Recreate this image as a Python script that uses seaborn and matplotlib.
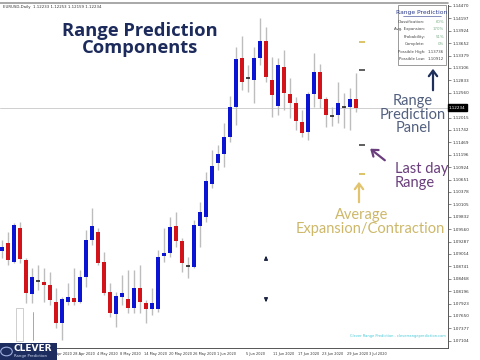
import numpy as np
import pandas as pd
import matplotlib
matplotlib.use("Agg")
import matplotlib.pyplot as plt
import seaborn as sns
from matplotlib.patches import Rectangle, FancyArrowPatch

# ---------------- data (EURUSD daily) ----------------
opens = [1.09080, 1.09256, 1.08838, 1.09586, 1.08882, 1.08134, 1.08420, 1.08398, 1.08332, 1.07958,
         1.07496, 1.07958, 1.08046, 1.07958, 1.08508, 1.09322, 1.09498, 1.08838, 1.08178, 1.07694,
         1.08068, 1.08024, 1.07826, 1.08266, 1.07936, 1.07804, 1.07804, 1.08970, 1.09036, 1.09630,
         1.09300, 1.08750, 1.08728, 1.09630, 1.09828, 1.10554, 1.11016, 1.11214, 1.11588, 1.12248,
         1.13326, 1.12886, 1.12842, 1.13326, 1.13700, 1.12842, 1.12270, 1.13128, 1.12534, 1.12336,
         1.11918, 1.11698, 1.12534, 1.13018, 1.12424, 1.12050, 1.12072, 1.12248, 1.12248, 1.12424]
highs = [1.09322, 1.09498, 1.09696, 1.09718, 1.08926, 1.08706, 1.08772, 1.08706, 1.08618, 1.08266,
         1.08068, 1.08376, 1.08706, 1.08662, 1.09542, 1.10026, 1.09586, 1.09058, 1.08376, 1.08178,
         1.08552, 1.08662, 1.08662, 1.08772, 1.08002, 1.08266, 1.09102, 1.09586, 1.09828, 1.09938,
         1.09366, 1.08948, 1.09762, 1.10158, 1.10818, 1.11302, 1.11412, 1.11896, 1.12490, 1.13568,
         1.13810, 1.13172, 1.13568, 1.14206, 1.14008, 1.13348, 1.13326, 1.13502, 1.12886, 1.12468,
         1.12182, 1.12578, 1.13436, 1.13194, 1.12468, 1.12248, 1.12798, 1.12556, 1.12666, 1.12996]
lows = [1.08926, 1.08772, 1.08816, 1.08816, 1.07936, 1.07936, 1.08222, 1.07958, 1.07892, 1.07386,
        1.07122, 1.07892, 1.07892, 1.07936, 1.08288, 1.09212, 1.08772, 1.08112, 1.07628, 1.07408,
        1.07892, 1.07716, 1.07716, 1.07716, 1.07496, 1.07672, 1.07738, 1.08838, 1.08948, 1.09168,
        1.08618, 1.08486, 1.08706, 1.09168, 1.09718, 1.10466, 1.10862, 1.10928, 1.11478, 1.11852,
        1.12622, 1.12578, 1.12336, 1.13172, 1.12798, 1.12028, 1.12072, 1.12182, 1.12006, 1.11742,
        1.11588, 1.11522, 1.12248, 1.12226, 1.11808, 1.11830, 1.11896, 1.11786, 1.11742, 1.12138]
closes = [1.09168, 1.08882, 1.09652, 1.08904, 1.08156, 1.08508, 1.08420, 1.08332, 1.08002, 1.07496,
          1.08024, 1.08068, 1.07958, 1.08508, 1.09322, 1.09630, 1.08816, 1.08156, 1.07716, 1.08090,
          1.08156, 1.07826, 1.08266, 1.07958, 1.07804, 1.07936, 1.08948, 1.09036, 1.09608, 1.09300,
          1.08816, 1.08750, 1.09652, 1.09938, 1.10620, 1.10950, 1.11214, 1.11588, 1.12248, 1.13304,
          1.12798, 1.12886, 1.13326, 1.13700, 1.12908, 1.12512, 1.13172, 1.12556, 1.12336, 1.11940,
          1.11676, 1.12534, 1.13018, 1.12424, 1.12072, 1.12050, 1.12336, 1.12248, 1.12424, 1.12234]

date_labels = ["22 Apr 2020", "28 Apr 2020", "4 May 2020", "8 May 2020", "14 May 2020",
               "20 May 2020", "26 May 2020", "1 Jun 2020", "5 Jun 2020", "11 Jun 2020",
               "17 Jun 2020", "23 Jun 2020", "29 Jun 2020", "3 Jul 2020"]

current_price = 1.12234
avg_range_levels = [1.13678, 1.10774]      # average expansion/contraction (gold)
last_day_levels = [1.13062, 1.11412]       # last day range (dark)
signal_up_price = 1.08882
signal_down_price = 1.08046

panel_labels = ["Classification:", "Avg. Expansion:", "Probability:", "Complete:",
                "Possible High:", "Possible Low:"]
panel_values = ["60%", "170%", "51%", "0%", "1.13736", "1.10912"]

# ---------------- figure ----------------
sns.set_theme(style="white")
plt.rcParams["font.family"] = ["DejaVu Sans"]

W, H = 480, 360
fig = plt.figure(figsize=(4.8, 3.6), dpi=100)
fig.patch.set_facecolor("white")

def fx(px):
    return px / W

def fy(py):
    return 1 - py / H

ax = fig.add_axes([fx(0), fy(348), fx(448), fy(5) - fy(348)])
ax.set_facecolor("white")

df = pd.DataFrame({"open": opens, "high": highs, "low": lows, "close": closes})
df["idx"] = np.arange(len(df))

blue = "#0a14d2"
red = "#d2141a"
wick_c = "#bdbdbd"

ax.vlines(df["idx"], df["low"], df["high"], color=wick_c, linewidth=1.0, zorder=1)
up = df["close"] > df["open"]
dn = df["close"] < df["open"]
eq = df["close"] == df["open"]
ax.bar(df["idx"][up], (df["close"] - df["open"])[up], bottom=df["open"][up],
       width=0.66, color=blue, linewidth=0, zorder=2)
ax.bar(df["idx"][dn], (df["close"] - df["open"])[dn], bottom=df["open"][dn],
       width=0.66, color=red, linewidth=0, zorder=2)
ax.hlines(df["close"][eq], df["idx"][eq] - 0.35, df["idx"][eq] + 0.35,
          color="#222222", linewidth=1.2, zorder=2)

# current price line
ax.axhline(current_price, color="#c8c8c8", linewidth=0.6, zorder=0)

# predicted range dashes at the next bar position
nxt = len(df)
ax.hlines(avg_range_levels, nxt - 0.55, nxt + 0.45, color="#d8bf5a", linewidth=1.3, zorder=3)
ax.hlines(last_day_levels, nxt - 0.55, nxt + 0.45, color="#333333", linewidth=1.1, zorder=3)

# signal arrows
ax.annotate("", xy=(44, signal_up_price + 0.0009), xytext=(44, signal_up_price - 0.0003),
            arrowprops=dict(arrowstyle="-|>", color="#1b2440", lw=1.0, mutation_scale=5))
ax.annotate("", xy=(44, signal_down_price - 0.0009), xytext=(44, signal_down_price + 0.0003),
            arrowprops=dict(arrowstyle="-|>", color="#1b2440", lw=1.0, mutation_scale=5))

ax.set_xlim(-1 / 3, 74.33)
ax.set_ylim(1.06946, 1.14492)

# axes styling (MT4-like)
for s in ["left", "top"]:
    ax.spines[s].set_visible(False)
for s in ["right", "bottom"]:
    ax.spines[s].set_color("#555555")
    ax.spines[s].set_linewidth(0.7)

yt = 1.14470 - 0.002728 * np.arange(0, 28)
yt = yt[np.abs(yt - current_price) > 0.0016]
ax.yaxis.tick_right()
ax.set_yticks(yt)
ax.set_yticklabels([f"{v:.5f}" for v in yt], fontsize=3.0, color="#333333")
ax.tick_params(axis="y", length=2, width=0.4, pad=1.5, colors="#333333")

tick_px = [50, 73, 97, 120, 144, 169, 193, 217, 246, 273, 298, 322, 347, 369]
ax.set_xticks([(p - 2) / 6 for p in tick_px])
ax.set_xticklabels(date_labels, fontsize=2.5, color="#333333", ha="left")
ax.tick_params(axis="x", length=2, width=0.4, pad=1.0)
ax.grid(False)

# current price tag on axis
fig.text(fx(449), fy(107.5), f"{current_price:.5f}", fontsize=3.0, color="white",
         va="center", ha="left",
         bbox=dict(boxstyle="square,pad=0.25", fc="black", ec="black"))

# top chart caption
fig.text(fx(3), fy(7), "EURUSD,Daily  1.12233 1.12253 1.12159 1.12234", fontsize=2.8,
         color="#333333", va="center", ha="left")
fig.add_artist(plt.Line2D([0, fx(448)], [fy(2.5), fy(2.5)], color="#9a9a9a", lw=1.2))

# big title
fig.text(fx(140), fy(30.5), "Range Prediction", fontsize=13.2, fontweight="bold",
         color="#1c2b5c", ha="center", va="center", family="Open Sans")
fig.text(fx(140), fy(48), "Components", fontsize=13.2, fontweight="bold",
         color="#1c2b5c", ha="center", va="center", family="Open Sans")

# range prediction panel
fig.add_artist(Rectangle((fx(398), fy(65)), fx(48), fy(5) - fy(65), transform=fig.transFigure,
                         fc="white", ec="#8a8a8a", lw=0.6, zorder=5))
fig.text(fx(422), fy(12.5), "Range Prediction", fontsize=4.3, color="#2a3a8a",
         ha="center", va="center", zorder=6)
fig.add_artist(plt.Line2D([fx(403), fx(441)], [fy(16.2), fy(16.2)], color="#2a3a8a", lw=0.4,
                          zorder=6))
for k, (lab, val) in enumerate(zip(panel_labels, panel_values)):
    yy = fy(22 + k * 7.4)
    fig.text(fx(425), yy, lab, fontsize=2.8, color="#444444", ha="right", va="center", zorder=6)
    vc = "#444444" if k >= 4 else "#7fb08a"
    fig.text(fx(444), yy, val, fontsize=2.8, color=vc, ha="right", va="center", zorder=6)

# annotations
fig.text(fx(413), fy(101), "Range", fontsize=10.5, color="#52607f", ha="center", va="center",
         family="Lato")
fig.text(fx(413), fy(115), "Prediction", fontsize=10.5, color="#52607f", ha="center",
         va="center", family="Lato")
fig.text(fx(413), fy(128), "Panel", fontsize=10.5, color="#52607f", ha="center", va="center",
         family="Lato")

fig.text(fx(395), fy(169), "Last day", fontsize=10.5, color="#6a3e7c", ha="left", va="center",
         family="Lato")
fig.text(fx(395), fy(183), "Range", fontsize=10.5, color="#6a3e7c", ha="left", va="center",
         family="Lato")

fig.text(fx(362), fy(215), "Average", fontsize=10.5, color="#cdb86a", ha="center", va="center",
         family="Lato")
fig.text(fx(370), fy(229), "Expansion/Contraction", fontsize=10.5, color="#cdb86a",
         ha="center", va="center", family="Lato")

def arrow(x0, y0, x1, y1, color):
    fig.add_artist(FancyArrowPatch((fx(x0), fy(y0)), (fx(x1), fy(y1)),
                                   transform=fig.transFigure, arrowstyle="->,head_length=4,head_width=3",
                                   color=color, lw=1.6, zorder=6))

arrow(433, 93, 433, 66, "#1e2f5c")
arrow(387, 162, 368, 147, "#6a3e7c")
arrow(359, 205, 359, 179, "#e2c46e")

# logo
fig.add_artist(Rectangle((0, 0), fx(57), fy(343), transform=fig.transFigure,
                         fc="#1d2c5e", ec="none", zorder=6))
fig.text(fx(14), fy(348.5), "CLEVER", fontsize=6.5, fontweight="bold", color="white",
         ha="left", va="center", zorder=7)
fig.text(fx(14), fy(356), "Range Prediction", fontsize=2.8, color="#cfd8f0",
         ha="left", va="center", zorder=7)
fig.add_artist(plt.Circle((fx(6.5), fy(351.5)), 0.012, transform=fig.transFigure,
                          fc="none", ec="#9fb0e0", lw=0.8, zorder=7))

# small widget bottom-left
fig.add_artist(Rectangle((fx(16), fy(341)), fx(7), fy(308) - fy(341), transform=fig.transFigure,
                         fc="white", ec="#bbbbbb", lw=0.5, zorder=4))
fig.add_artist(plt.Line2D([fx(33), fx(33)], [fy(312), fy(340)], color="#999999", lw=0.6))

# cyan footer text
fig.text(fx(446), fy(336), "Clever Range Prediction - cleverrangeprediction.com",
         fontsize=2.6, color="#45c8d8", ha="right", va="center")

fig.savefig("out.png", dpi=100)
